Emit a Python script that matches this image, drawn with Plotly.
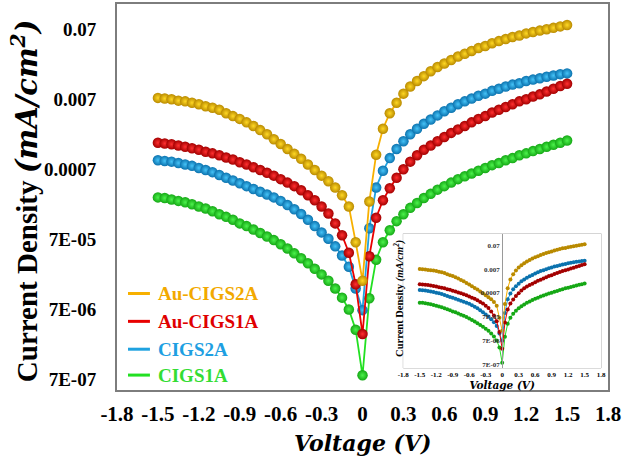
import plotly.graph_objects as go

# Bias voltage (V)
voltage = [-1.5, -1.45, -1.4, -1.35, -1.3, -1.25, -1.2, -1.15, -1.1, -1.05,
           -1.0, -0.95, -0.9, -0.85, -0.8, -0.75, -0.7, -0.65, -0.6, -0.55,
           -0.5, -0.45, -0.4, -0.35, -0.3, -0.25, -0.2, -0.15, -0.1, -0.05,
           0.0,
           0.05, 0.1, 0.15, 0.2, 0.25, 0.3, 0.35, 0.4, 0.45, 0.5,
           0.55, 0.6, 0.65, 0.7, 0.75, 0.8, 0.85, 0.9, 0.95, 1.0,
           1.05, 1.1, 1.15, 1.2, 1.25, 1.3, 1.35, 1.4, 1.45, 1.5]

# Current density |J| (mA/cm^2)
j_au_cigs2a = [7.24e-3, 7.08e-3, 6.92e-3, 6.61e-3, 6.46e-3, 6.17e-3, 5.89e-3, 5.50e-3, 5.25e-3, 4.90e-3,
               4.37e-3, 3.98e-3, 3.63e-3, 3.24e-3, 2.88e-3, 2.51e-3, 2.19e-3, 1.86e-3, 1.59e-3, 1.35e-3,
               1.15e-3, 9.77e-4, 8.13e-4, 6.76e-4, 5.62e-4, 4.68e-4, 3.80e-4, 2.95e-4, 2.04e-4, 6.31e-5,
               1.78e-5,
               2.40e-4, 1.12e-3, 2.63e-3, 4.37e-3, 6.17e-3, 8.32e-3, 1.05e-2, 1.26e-2, 1.48e-2, 1.74e-2,
               2.00e-2, 2.24e-2, 2.51e-2, 2.82e-2, 3.09e-2, 3.39e-2, 3.72e-2, 3.98e-2, 4.37e-2, 4.68e-2,
               5.01e-2, 5.37e-2, 5.62e-2, 6.03e-2, 6.31e-2, 6.61e-2, 6.92e-2, 7.24e-2, 7.59e-2, 7.94e-2]

j_au_cigs1a = [1.66e-3, 1.62e-3, 1.58e-3, 1.51e-3, 1.45e-3, 1.38e-3, 1.32e-3, 1.23e-3, 1.17e-3, 1.10e-3,
               1.02e-3, 9.55e-4, 8.71e-4, 8.13e-4, 7.41e-4, 6.76e-4, 6.17e-4, 5.62e-4, 5.01e-4, 4.47e-4,
               3.98e-4, 3.47e-4, 2.95e-4, 2.51e-4, 2.04e-4, 1.62e-4, 1.17e-4, 7.94e-5, 4.47e-5, 1.58e-5,
               3.09e-6,
               3.98e-5, 1.41e-4, 2.51e-4, 3.72e-4, 5.25e-4, 6.92e-4, 8.91e-4, 1.10e-3, 1.32e-3, 1.51e-3,
               1.74e-3, 2.00e-3, 2.29e-3, 2.57e-3, 2.88e-3, 3.24e-3, 3.63e-3, 3.98e-3, 4.47e-3, 4.90e-3,
               5.37e-3, 5.89e-3, 6.46e-3, 6.92e-3, 7.59e-3, 8.13e-3, 8.91e-3, 9.77e-3, 1.07e-2, 1.15e-2]

j_cigs2a = [9.33e-4, 9.12e-4, 8.91e-4, 8.51e-4, 8.13e-4, 7.76e-4, 7.24e-4, 6.76e-4, 6.31e-4, 5.75e-4,
            5.25e-4, 4.79e-4, 4.37e-4, 3.98e-4, 3.63e-4, 3.31e-4, 3.02e-4, 2.75e-4, 2.45e-4, 2.14e-4,
            1.86e-4, 1.59e-4, 1.32e-4, 1.07e-4, 8.71e-5, 7.08e-5, 5.50e-5, 4.07e-5, 2.82e-5, 1.38e-5,
            6.76e-6,
            1.00e-4, 3.80e-4, 6.61e-4, 1.00e-3, 1.35e-3, 1.74e-3, 2.19e-3, 2.63e-3, 3.09e-3, 3.55e-3,
            4.07e-3, 4.68e-3, 5.25e-3, 5.89e-3, 6.46e-3, 7.08e-3, 7.76e-3, 8.32e-3, 9.12e-3, 9.77e-3,
            1.05e-2, 1.12e-2, 1.17e-2, 1.26e-2, 1.32e-2, 1.38e-2, 1.45e-2, 1.51e-2, 1.58e-2, 1.62e-2]

j_cigs1a = [2.75e-4, 2.69e-4, 2.57e-4, 2.45e-4, 2.34e-4, 2.19e-4, 2.04e-4, 1.91e-4, 1.74e-4, 1.58e-4,
            1.45e-4, 1.32e-4, 1.17e-4, 1.07e-4, 9.55e-5, 8.51e-5, 7.59e-5, 6.76e-5, 5.89e-5, 5.13e-5,
            4.37e-5, 3.72e-5, 3.16e-5, 2.63e-5, 2.19e-5, 1.78e-5, 1.38e-5, 1.02e-5, 6.92e-6, 3.55e-6,
            7.94e-7,
            1.00e-5, 3.55e-5, 6.31e-5, 9.33e-5, 1.26e-4, 1.58e-4, 1.95e-4, 2.29e-4, 2.69e-4, 3.09e-4,
            3.55e-4, 3.98e-4, 4.47e-4, 5.01e-4, 5.50e-4, 6.03e-4, 6.61e-4, 7.24e-4, 7.94e-4, 8.51e-4,
            9.33e-4, 1.00e-3, 1.10e-3, 1.17e-3, 1.26e-3, 1.35e-3, 1.45e-3, 1.55e-3, 1.66e-3, 1.78e-3]

series_names = ["Au-CIGS2A", "Au-CIGS1A", "CIGS2A", "CIGS1A"]

x_tick_vals = [-1.8, -1.5, -1.2, -0.9, -0.6, -0.3, 0, 0.3, 0.6, 0.9, 1.2, 1.5, 1.8]
x_tick_text = ["-1.8", "-1.5", "-1.2", "-0.9", "-0.6", "-0.3", "0", "0.3", "0.6", "0.9", "1.2", "1.5", "1.8"]
y_tick_vals = [7e-7, 7e-6, 7e-5, 7e-4, 7e-3, 7e-2]
y_tick_text = ["7E-07", "7E-06", "7E-05", "0.0007", "0.007", "0.07"]

# style per series: (line colour, ball edge, ball highlight, legend text colour)
styles = {
    "Au-CIGS2A": ("#F7B000", "#B98A00", "#FFD824", "#F2A900"),
    "Au-CIGS1A": ("#E80000", "#A30000", "#FF3030", "#E00000"),
    "CIGS2A": ("#1FA2E0", "#0B72AE", "#45C3F7", "#1E9FE2"),
    "CIGS1A": ("#22E022", "#15A815", "#4CF24C", "#33DD33"),
}
series_data = {
    "Au-CIGS2A": j_au_cigs2a,
    "Au-CIGS1A": j_au_cigs1a,
    "CIGS2A": j_cigs2a,
    "CIGS1A": j_cigs1a,
}

SERIF = "Liberation Serif, 'Times New Roman', Times, serif"
MATH = "'DejaVu Serif', serif"

fig = go.Figure()

# main panel, drawn back to front
for name in ["CIGS1A", "CIGS2A", "Au-CIGS1A", "Au-CIGS2A"]:
    line_c, edge_c, hi_c, _ = styles[name]
    fig.add_trace(go.Scatter(
        x=voltage, y=series_data[name], mode="lines+markers", name=name,
        line=dict(color=line_c, width=1.8),
        marker=dict(size=10.5, color=edge_c, line=dict(width=0),
                    gradient=dict(type="radial", color=hi_c)),
        showlegend=False, xaxis="x", yaxis="y"))

# inset panel
for name in ["CIGS1A", "CIGS2A", "Au-CIGS1A", "Au-CIGS2A"]:
    line_c, edge_c, hi_c, _ = styles[name]
    fig.add_trace(go.Scatter(
        x=voltage, y=series_data[name], mode="lines+markers", name=name,
        line=dict(color=line_c, width=1),
        marker=dict(size=4, color=edge_c, line=dict(width=0)),
        showlegend=False, xaxis="x2", yaxis="y2"))

frame_col = "#7d7d7d"

fig.update_layout(
    width=623, height=463,
    margin=dict(l=117, r=14, t=2, b=73),
    paper_bgcolor="white", plot_bgcolor="white",
    xaxis=dict(range=[-1.8, 1.8], tickmode="array", tickvals=x_tick_vals, ticktext=x_tick_text,
               showgrid=False, zeroline=False, showline=True, mirror=True,
               linecolor=frame_col, linewidth=2, ticks="", ticklabelstandoff=4,
               tickfont=dict(family=SERIF, size=21, color="black", weight="bold")),
    yaxis=dict(type="log", range=[-6.31, -0.80], tickmode="array", tickvals=y_tick_vals,
               ticktext=y_tick_text, showgrid=False, zeroline=False, showline=True, mirror=True,
               linecolor=frame_col, linewidth=2, ticks="", ticklabelstandoff=15,
               tickfont=dict(family=SERIF, size=19, color="black", weight="bold")),
    xaxis2=dict(domain=[0.583, 0.986], anchor="y2", range=[-1.8, 1.8], tickmode="array",
                tickvals=x_tick_vals, ticktext=x_tick_text, showgrid=False, zeroline=False,
                showline=False, ticks="", ticklabelstandoff=1,
                tickfont=dict(family=SERIF, size=7, color="black", weight="bold"),
                title=dict(text="<b><i>Voltage (V)</i></b>", standoff=0,
                           font=dict(family=MATH, size=10.5, color="black"))),
    yaxis2=dict(domain=[0.057, 0.405], anchor="free", position=0.7845, type="log",
                range=[-6.32, -0.65], tickmode="array", tickvals=y_tick_vals, ticktext=y_tick_text,
                showgrid=False, zeroline=False, showline=True, linecolor="#9a9a9a", linewidth=1,
                ticks="", ticklabelstandoff=1,
                tickfont=dict(family=SERIF, size=7, color="#333", weight="bold")),
)

# inset frame
fig.add_shape(type="rect", xref="x2 domain", yref="y2 domain", x0=0, x1=1, y0=0, y1=1,
              line=dict(color="#b5b5b5", width=1), fillcolor="rgba(0,0,0,0)", layer="below")

# inset y title
fig.add_annotation(xref="paper", yref="paper", x=(400 - 117) / 492, y=(390 - 298) / 388,
                   text="<b>Current Density</b> <b><i>(mA/cm<sup>2</sup>)</i></b>", textangle=-90,
                   showarrow=False, xanchor="center", yanchor="middle",
                   font=dict(family=SERIF, size=10.5, color="black"))

# main axis titles
fig.add_annotation(xref="paper", yref="paper", x=(25 - 117) / 492, y=(390 - 200) / 388,
                   text="<b>Current Density</b> <span style=\"font-family:'DejaVu Serif'\"><b><i>(mA/cm<sup>2</sup>)</i></b></span>",
                   textangle=-90, showarrow=False, xanchor="center", yanchor="middle",
                   font=dict(family=SERIF, size=29, color="black"))
fig.add_annotation(xref="paper", yref="paper", x=0.5, y=(390 - 443) / 388,
                   text="<b><i>Voltage (V)</i></b>", showarrow=False,
                   xanchor="center", yanchor="middle",
                   font=dict(family=MATH, size=22, color="black"))

# legend, drawn as line samples with coloured labels
legend_rows = [293, 321, 349, 375]
for name, row in zip(series_names, legend_rows):
    line_c, _, _, text_c = styles[name]
    yp = (390 - row) / 388
    fig.add_shape(type="line", xref="paper", yref="paper",
                  x0=(128 - 117) / 492, x1=(150 - 117) / 492, y0=yp, y1=yp,
                  line=dict(color=line_c, width=3))
    fig.add_annotation(xref="paper", yref="paper", x=(156 - 117) / 492, y=yp,
                       text="<b>%s</b>" % name, showarrow=False, xanchor="left", yanchor="middle",
                       font=dict(family=SERIF, size=19, color=text_c))

fig.write_html("out.html")
